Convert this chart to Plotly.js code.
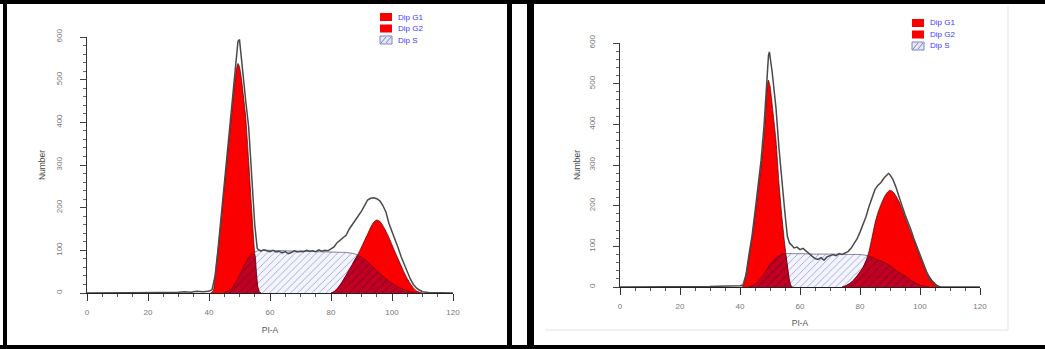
<!DOCTYPE html>
<html><head><meta charset="utf-8">
<script src="https://cdn.plot.ly/plotly-3.0.1.min.js"></script>
<style>html,body{margin:0;padding:0;background:#fff;}#chart{width:1045px;height:349px;}</style>
</head><body><div id="chart"></div>
<script>
// ---------------- DATA ----------------
// Left panel: raw histogram
const leftRawX = [0,5,10,15,20,25,30,32,34,36, 38,40,41,42,43,44,45,46,47,48, 49,49.5,50,50.7,51,52,53,54,55,55.8, 56,57,58,59,60,61,62,63,64,65, 66,67,68,69,70,71,72,73,74,75, 76,77,78,79,80,81,82,83,84,85, 86,87,88,89,90,91,92,93,94,95, 96,97,98,99,100,101,102,103,104,105, 106,107,108,109,110,112,115,120];
const leftRawY = [0,0,0,0,0,1,2,3,2,4, 3,4,8,40,105,178,252,325,400,475, 560,590,594,538,518,453,389,277,160,105, 103,98,101,99,97,100,96,98,94,97, 92,95,99,96,98,97,100,98,99,97, 101,98,100,99,103,108,118,124,130,136, 150,160,172,180,192,205,218,222,223,221, 216,205,190,163,145,127,106,85,67,48, 33,20,12,7,3,1,0,0];
// Left panel: Dip G1
const leftG1X = [40.5,41,41.5,42,43,44,45,46,47,48, 49,49.5,50,50.7,51,52,53,54,55,55.5, 56,56.5,57];
const leftG1Y = [0,2,8,40,105,175,248,318,390,462, 525,538,530,499,480,415,310,195,90,50, 14,3,0];
// Left panel: Dip G2
const leftG2X = [80,81,82,83,84,85,86,87,88,89, 90,91,92,93,94,95,96,97,98,99, 100,101,102,103,104,105,106,107,108,109, 110];
const leftG2Y = [0,3,10,19,30,42,55,67,80,93, 108,123,138,154,166,171,168,158,145,130, 113,96,80,64,48,34,22,12,5,2, 0];
// Left panel: Dip S
const leftSX = [45,46,47,48,49,50,51,52,53,54, 55,56,57,60,65,70,75,80,85,86, 87,88,89,90,91,92,93,94,95,96, 97,98,99,100,101,102,103,104,105,106, 107,108];
const leftSY = [1,4,8,16,28,42,57,71,83,91, 96,99,100,100,99,98,97,96,95,94, 93,91,88,84,79,73,67,60,53,46, 40,34,28,23,18,14,11,8,5,3, 1.5,0];
const leftMeans = [49.5, 95.4];

// Right panel: raw histogram
const rightRawX = [0,5,10,15,20,25,30,33,36,38, 40,41,42,43,44,45,46,47,48,48.5, 49,49.5,49.8,50.2,50.7,51.2,51.7,52,53,53.9, 55,55.8,56.5,57.2,58,59,60,61,62,63, 64,65,66,67,68,69,70,71,72,73, 74,75,76,77,78,79,80,81,82,83, 84,85,86,87,88,89,89.5,90,91,92, 93,94,95,96,97,98,99,100,101,102, 103,104,105,106,107,110,115,120];
const rightRawY = [0,0,0,0,0,0,1,2,2,3, 3,5,30,80,125,185,248,310,395,455, 530,570,578,560,530,495,468,440,340,263, 180,124,108,103,96,98,92,95,88,82, 76,70,68,72,66,74,78,80,77,82, 80,84,87,95,105,118,135,152,173,198, 218,240,250,257,268,276,279,276,264,245, 225,200,178,160,140,118,98,78,58,40, 22,12,5,2,0,0,0,0];
// Right panel: Dip G1
const rightG1X = [40.5,41,41.5,42,43,44,45,46,47,48, 48.5,49,49.4,50,50.5,51,52,53,54,55, 56,56.5,57,57.5];
const rightG1Y = [0,3,12,30,75,120,175,235,295,370, 430,485,509,495,465,430,360,255,170,99, 40,15,3,0];
// Right panel: Dip G2
const rightG2X = [74,75,76,77,78,79,80,81,82,83, 84,85,86,87,88,89,90,91,92,93, 94,95,96,97,98,99,100,101,102,103, 104,105,106,107];
const rightG2Y = [0,2,6,11,18,27,37,48,64,88, 122,157,183,203,220,232,238,234,224,210, 192,172,152,133,115,95,75,55,40,28, 17,9,3,0];
// Right panel: Dip S
const rightSX = [43,44,45,46,47,48,49,50,51,52, 53,54,55,56,57,60,65,70,75,80, 81,82,83,84,85,86,87,88,89,90, 91,92,93,94,95,96,97,98,99,100, 101,102,103];
const rightSY = [0,3,7,13,22,33,44,55,64,71, 77,81,82,82,82,82,81,81,80,80, 79,78,76,73,70,67,64,61,57,52, 47,41,36,31,27,22,17,12,8,5, 3,1,0];
const rightMeans = [49.1, 88.7];

const legendLabels = ["Dip G1", "Dip G2", "Dip S"];
const xTicks = [0,20,40,60,80,100,120];
const yTicks = [0,100,200,300,400,500,600];

// ---------------- STYLE ----------------
const W = 1045, H = 349;
const RED = 'rgb(250,0,0)';
const DARKRED = 'rgb(196,0,32)';
const FONT = 'Liberation Sans, Arial, sans-serif';
const px = v => v / W;
const py = v => 1 - v / H;

// Region under both the S curve and a peak curve, assembled from the read points.
function overlap(sX, sY, gX, gY, lowFirst) {
  const gMap = new Map(gX.map((x, i) => [x, gY[i]]));
  let cut = null;
  for (let i = 0; i < sX.length; i++) {
    if (!gMap.has(sX[i])) continue;
    const s = sY[i], g = gMap.get(sX[i]);
    if (lowFirst ? s > g : g > s) { cut = sX[i]; break; }
  }
  const lo = Math.max(sX[0], gX[0]), hi = Math.min(sX[sX.length-1], gX[gX.length-1]);
  if (cut === null) cut = lowFirst ? hi : lo;
  const A = lowFirst ? [sX, sY] : [gX, gY];
  const B = lowFirst ? [gX, gY] : [sX, sY];
  const ox = [], oy = [];
  A[0].forEach((x, i) => { if (x < cut && x >= lo) { ox.push(x); oy.push(A[1][i]); } });
  B[0].forEach((x, i) => { if (x >= cut && x <= hi) { ox.push(x); oy.push(B[1][i]); } });
  return [ox, oy];
}

function panelTraces(rawX, rawY, g1X, g1Y, g2X, g2Y, sX, sY, means, xa, ya) {
  const common = {xaxis: xa, yaxis: ya, showlegend: false, hoverinfo: 'skip', mode: 'lines'};
  const sm = {shape: 'spline', smoothing: 0.6};
  const o1 = overlap(sX, sY, g1X, g1Y, true);
  const o2 = overlap(sX, sY, g2X, g2Y, false);
  const darkPattern = {shape: '/', bgcolor: DARKRED, fgcolor: 'rgba(110,0,50,0.6)', size: 6, solidity: 0.2};
  return [
    Object.assign({}, common, {x: sX, y: sY, fill: 'tozeroy', fillcolor: 'rgba(0,0,0,0)',
      fillpattern: {shape: '/', bgcolor: 'rgba(235,236,252,0.6)', fgcolor: 'rgba(70,80,190,0.55)', size: 5, solidity: 0.16},
      line: Object.assign({color: 'rgba(70,60,90,0.8)', width: 0.8}, sm)}),
    Object.assign({}, common, {x: g1X, y: g1Y, fill: 'tozeroy', fillcolor: RED,
      line: Object.assign({color: 'rgba(70,0,0,0.85)', width: 0.8}, sm)}),
    Object.assign({}, common, {x: g2X, y: g2Y, fill: 'tozeroy', fillcolor: RED,
      line: Object.assign({color: 'rgba(70,0,0,0.85)', width: 0.8}, sm)}),
    Object.assign({}, common, {x: o1[0], y: o1[1], fill: 'tozeroy', fillcolor: DARKRED, fillpattern: darkPattern,
      line: Object.assign({color: 'rgba(90,0,20,0.8)', width: 0.7}, sm)}),
    Object.assign({}, common, {x: o2[0], y: o2[1], fill: 'tozeroy', fillcolor: DARKRED, fillpattern: darkPattern,
      line: Object.assign({color: 'rgba(90,0,20,0.8)', width: 0.7}, sm)}),
    Object.assign({}, common, {x: rawX, y: rawY, line: {color: '#4a4a4a', width: 1.5}}),
    Object.assign({}, common, {x: means, y: means.map(() => -11), mode: 'markers', cliponaxis: false,
      marker: {symbol: 'triangle-up', size: 9, color: '#000'}})
  ];
}

const data = [].concat(
  panelTraces(leftRawX, leftRawY, leftG1X, leftG1Y, leftG2X, leftG2Y, leftSX, leftSY, leftMeans, 'x', 'y'),
  panelTraces(rightRawX, rightRawY, rightG1X, rightG1Y, rightG2X, rightG2Y, rightSX, rightSY, rightMeans, 'x2', 'y2')
);

function xAxis(domain, anchor, standoff) {
  return {domain: domain, anchor: anchor, range: [0, 120], tickvals: xTicks, ticktext: xTicks.map(String),
    showline: true, linecolor: '#222', linewidth: 1.4, ticks: 'outside', ticklen: 7, tickwidth: 1, tickcolor: '#333',
    minor: {dtick: 5, tick0: 0, ticks: 'outside', ticklen: 3, tickcolor: '#555'},
    showgrid: false, zeroline: false, fixedrange: true, automargin: false,
    tickfont: {family: FONT, size: 8, color: '#777'}, ticklabelstandoff: 4,
    title: {text: 'PI-A', font: {family: FONT, size: 8.5, color: '#555'}, standoff: standoff}};
}
function yAxis(domain, anchor, standoff) {
  return {domain: domain, anchor: anchor, range: [0, 600], tickvals: yTicks, ticktext: yTicks.map(String),
    showline: true, linecolor: '#333', linewidth: 1, ticks: 'outside', ticklen: 6, tickwidth: 1, tickcolor: '#444',
    minor: {dtick: 20, tick0: 0, ticks: 'outside', ticklen: 3, tickcolor: '#666'},
    showgrid: false, zeroline: false, fixedrange: true, automargin: false, tickangle: -90,
    tickfont: {family: FONT, size: 8, color: '#777'}, ticklabelstandoff: 15,
    title: {text: 'Number', font: {family: FONT, size: 8.5, color: '#444'}, standoff: standoff}};
}

const shapes = [];
const annotations = [];
function rect(x0, y0, x1, y1, fill, line) {
  shapes.push({type: 'rect', xref: 'paper', yref: 'paper', x0: px(x0), x1: px(x1), y0: py(y1), y1: py(y0),
    fillcolor: fill, line: line || {width: 0}, layer: 'above'});
}
function seg(x0, y0, x1, y1, color, w) {
  shapes.push({type: 'line', xref: 'paper', yref: 'paper', x0: px(x0), x1: px(x1), y0: py(y0), y1: py(y1),
    line: {color: color, width: w}, layer: 'above'});
}
// frame
rect(0, 0, 1045, 4, '#000');
rect(0, 345, 1045, 349, '#000');
rect(3, 0, 7, 349, '#000');
rect(507, 0, 512, 349, '#000');
rect(527, 0, 534, 349, '#000');
seg(1008, 6, 1008, 330, '#ececec', 1.5);
seg(545, 330, 1008, 330, '#ececec', 1.5);

// legends
function legend(x, y, gap) {
  for (let i = 0; i < 3; i++) {
    const top = y + i * gap;
    if (i < 2) {
      rect(x, top, x + 12, top + 8, RED);
    } else {
      rect(x, top, x + 12, top + 8, 'rgb(230,232,248)', {color: '#7c84b8', width: 1});
      seg(x + 1, top + 7, x + 6, top + 1, '#7c84b8', 1);
      seg(x + 6, top + 7, x + 11, top + 1, '#7c84b8', 1);
    }
    annotations.push({xref: 'paper', yref: 'paper', x: px(x + 16), y: py(top + 4), xanchor: 'left', yanchor: 'middle',
      text: legendLabels[i], showarrow: false, font: {family: FONT, size: 8, color: '#3a3aff'}});
  }
}
legend(380, 13, 11.5);
legend(912, 19, 11.5);

const layout = {
  width: W, height: H, margin: {l: 0, r: 0, t: 0, b: 0},
  paper_bgcolor: '#fff', plot_bgcolor: 'rgba(0,0,0,0)', showlegend: false,
  xaxis: xAxis([px(87), px(453)], 'y', 11),
  yaxis: yAxis([py(293), py(37)], 'x', 7),
  xaxis2: xAxis([px(620), px(980)], 'y2', 10),
  yaxis2: yAxis([py(287), py(43)], 'x2', 5),
  shapes: shapes, annotations: annotations
};

Plotly.newPlot('chart', data, layout, {staticPlot: true, displayModeBar: false});
</script>
</body></html>
